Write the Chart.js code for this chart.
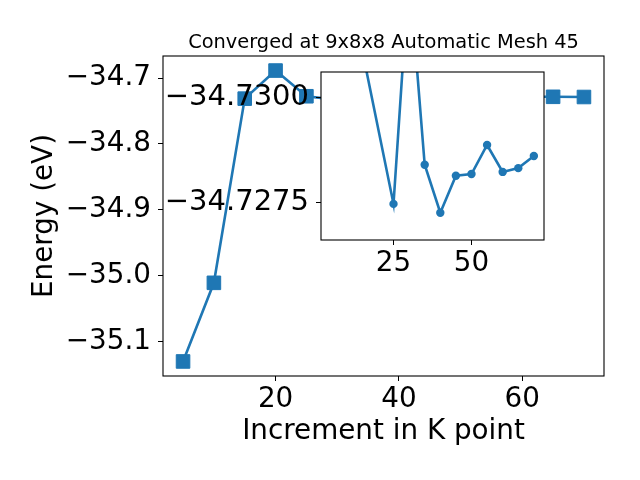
<!DOCTYPE html>
<html>
<head>
<meta charset="utf-8">
<script src="https://cdn.jsdelivr.net/npm/chart.js@4.4.1/dist/chart.umd.min.js"></script>
<style>
  html, body { margin: 0; padding: 0; background: #fff; }
  #wrap { position: relative; width: 640px; height: 480px; }
  canvas { position: absolute; left: 0; top: 0; }
</style>
</head>
<body>
<div id="wrap">
  <canvas id="main" width="640" height="480"></canvas>
  <canvas id="inset" width="640" height="480"></canvas>
</div>
<script>
// main curve: k-point increment vs total energy
const kPoints = [5, 10, 15, 20, 25, 30, 35, 40, 45, 50, 55, 60, 65, 70];
const energies = [-35.1305, -35.011, -34.7311, -34.6884, -34.72746, -34.7330, -34.72839,
  -34.72725, -34.72813, -34.72817, -34.72886, -34.72822, -34.72831, -34.72860];

// zoomed inset
const insetK = [15, 25, 30, 35, 40, 45, 50, 55, 60, 65, 70];
const insetEnergies = [-34.7311, -34.72746, -34.7330, -34.72839, -34.72725, -34.72813,
  -34.72817, -34.72886, -34.72822, -34.72831, -34.72860];

const mainXTicks = [20, 40, 60];
const mainYTicks = [-35.1, -35.0, -34.9, -34.8, -34.7];
const insetXTicks = [25, 50];
const insetYTicks = [-34.7300, -34.7275];

const titleText = 'Converged at 9x8x8 Automatic Mesh 45';
const xTitle = 'Increment in K point';
const yTitle = 'Energy (eV)';

const blue = '#1f77b4';
const FONT = 'DejaVu Sans';
const tickFont = { family: FONT, size: 27.8, lineHeight: 1.2 };
const insetYFont = { family: FONT, size: 29, lineHeight: 1.2 };

const fmt = (digits) => (v) => Number(v).toFixed(digits).replace('-', '\u2212');
const setTicks = (vals) => (axis) => { axis.ticks = vals.map(v => ({ value: v })); };

const tickGrid = { display: true, drawOnChartArea: false, drawTicks: true, tickLength: 5, tickWidth: 1, tickColor: '#000' };

// plugin: white box behind inset and black frame around plot area
const frame = {
  id: 'frame',
  beforeDraw(chart, args, opts) {
    if (!opts.fill) return;
    const a = chart.chartArea;
    chart.ctx.save();
    chart.ctx.fillStyle = '#fff';
    chart.ctx.fillRect(a.left, a.top, a.right - a.left, a.bottom - a.top);
    chart.ctx.restore();
  },
  afterDraw(chart) {
    const a = chart.chartArea;
    const ctx = chart.ctx;
    ctx.save();
    ctx.strokeStyle = '#000';
    ctx.lineWidth = 1.1;
    ctx.strokeRect(a.left, a.top, a.right - a.left, a.bottom - a.top);
    ctx.restore();
  }
};

const topTitle = {
  id: 'topTitle',
  afterDraw(chart) {
    const a = chart.chartArea;
    const ctx = chart.ctx;
    ctx.save();
    ctx.font = '19.4px "' + FONT + '"';
    ctx.fillStyle = '#000';
    ctx.textAlign = 'center';
    ctx.textBaseline = 'alphabetic';
    ctx.fillText(titleText, (a.left + a.right) / 2, 47.5);
    ctx.restore();
  }
};

new Chart(document.getElementById('main').getContext('2d'), {
  type: 'line',
  data: {
    datasets: [{
      data: kPoints.map((k, i) => ({ x: k, y: energies[i] })),
      borderColor: blue,
      backgroundColor: blue,
      borderWidth: 2.6,
      pointStyle: 'rect',
      pointRadius: 9.6,
      pointBorderWidth: 1,
      pointBackgroundColor: blue,
      pointBorderColor: blue,
      tension: 0
    }]
  },
  options: {
    responsive: false,
    animation: false,
    layout: { padding: { top: 56, right: 36, left: 0, bottom: 0 } },
    scales: {
      x: {
        type: 'linear',
        min: 1.75,
        max: 73.25,
        afterBuildTicks: setTicks(mainXTicks),
        afterFit: (s) => { s.height = 104; },
        grid: tickGrid,
        border: { display: false },
        ticks: { font: tickFont, color: '#000', padding: 2, maxRotation: 0, callback: fmt(0) },
        title: { display: true, text: xTitle, color: '#000', font: tickFont, padding: { top: 0, bottom: 32 } }
      },
      y: {
        type: 'linear',
        min: -35.1526,
        max: -34.6663,
        afterBuildTicks: setTicks(mainYTicks),
        afterFit: (s) => { s.width = 163; },
        grid: tickGrid,
        border: { display: false },
        ticks: { font: tickFont, color: '#000', padding: 7, callback: fmt(1) },
        title: { display: true, text: yTitle, color: '#000', font: tickFont, padding: { top: 28, bottom: 0 } }
      }
    },
    plugins: {
      legend: { display: false },
      tooltip: { enabled: false },
      frame: { fill: false }
    }
  },
  plugins: [frame, topTitle]
});

new Chart(document.getElementById('inset').getContext('2d'), {
  type: 'line',
  data: {
    datasets: [{
      data: insetK.map((k, i) => ({ x: k, y: insetEnergies[i] })),
      borderColor: blue,
      backgroundColor: blue,
      borderWidth: 2.6,
      pointStyle: 'circle',
      pointRadius: 4.2,
      pointBorderWidth: 0,
      pointBackgroundColor: blue,
      tension: 0
    }]
  },
  options: {
    responsive: false,
    animation: false,
    layout: { padding: { top: 72, right: 96, left: 0, bottom: 0 } },
    scales: {
      x: {
        type: 'linear',
        min: 1.75,
        max: 73.25,
        afterBuildTicks: setTicks(insetXTicks),
        afterFit: (s) => { s.height = 240; },
        grid: tickGrid,
        border: { display: false },
        ticks: { font: tickFont, color: '#000', padding: 2, maxRotation: 0, callback: fmt(0) }
      },
      y: {
        type: 'linear',
        reverse: true,
        min: -34.730595,
        max: -34.726602,
        afterBuildTicks: setTicks(insetYTicks),
        afterFit: (s) => { s.width = 321; },
        grid: tickGrid,
        border: { display: false },
        ticks: { font: insetYFont, color: '#000', padding: 7, callback: fmt(4) }
      }
    },
    plugins: {
      legend: { display: false },
      tooltip: { enabled: false },
      frame: { fill: true }
    }
  },
  plugins: [frame]
});
</script>
</body>
</html>
